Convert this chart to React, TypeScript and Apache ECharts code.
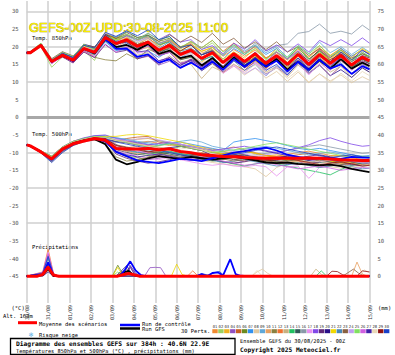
import React, { useEffect, useRef } from 'react';
import * as echarts from 'echarts';

const hours = [0, 4, 16, 28, 40, 52, 64, 76, 88, 100, 112, 124, 136, 148, 160, 172, 184, 196, 208, 220, 232, 244, 256, 268, 280, 292, 304, 316, 328, 340, 352, 364, 376, 384];
const dateLabels = ['30/08', '31/08', '01/09', '02/09', '03/09', '04/09', '05/09', '06/09', '07/09', '08/09', '09/09', '10/09', '11/09', '12/09', '13/09', '14/09', '15/09'];
const leftTicks = [-45, -40, -35, -30, -25, -20, -15, -10, -5, 0, 5, 10, 15, 20, 25, 30];
const rightTicks = [0, 5, 10, 15, 20, 25, 30, 35, 40, 45, 50, 55, 60, 65, 70, 75];
const gridLevels = [30, 20, 10, -10, -20, -30];
const zeroLevel = [0];

const pertColors = ['#f08a30', '#9ad060', '#f0b020', '#9050c0', '#c86020', '#6a8a20', '#3090f0', '#e0c8a0', '#60a8d8', '#e8a060', '#8a8040', '#f07030', '#c8b080', '#20c060', '#305858', '#8898a8', '#e890f0', '#8048e8', '#602878', '#281088', '#f0d800', '#4888b8', '#886040', '#c0a0f0', '#80e060', '#d060e0', '#4020a8', '#e8d8b8', '#901010', '#1840c8'];

const mean850 = [18.3, 18.3, 20.4, 15.8, 17.6, 16.2, 19.5, 18.4, 22.6, 20.9, 22.0, 20.1, 21.3, 19.0, 20.4, 17.8, 19.0, 16.7, 18.3, 15.5, 18.0, 15.8, 18.0, 15.3, 17.5, 15.0, 17.8, 15.0, 17.8, 15.3, 17.5, 14.8, 17.0, 16.0];
const control850 = [18.3, 18.3, 20.4, 15.8, 17.6, 16.0, 19.3, 18.3, 22.2, 19.4, 19.5, 17.1, 17.8, 15.5, 16.4, 14.0, 15.5, 13.7, 15.8, 13.5, 16.5, 14.3, 16.5, 14.3, 16.0, 13.0, 15.8, 13.5, 16.3, 13.8, 15.0, 12.3, 14.5, 13.6];
const gfs850 = [18.3, 18.3, 20.4, 15.8, 17.6, 16.0, 19.5, 18.1, 22.1, 19.9, 20.5, 19.1, 20.8, 18.0, 18.9, 16.8, 17.5, 14.7, 16.8, 14.0, 17.0, 14.3, 16.5, 14.3, 16.5, 13.5, 15.8, 13.5, 16.3, 13.8, 16.5, 13.8, 15.5, 14.5];
const perts850 = [
  [18.3, 18.5, 20.7, 15.6, 17.8, 16.5, 20.0, 19.2, 23.6, 22.4, 23.2, 21.9, 22.8, 21.0, 22.0, 20.0, 20.8, 18.7, 19.8, 17.3, 19.2, 17.3, 19.0, 16.7, 18.3, 16.2, 19.3, 17.0, 19.6, 17.5, 19.5, 17.3, 19.2, 18.0],
  [18.3, 18.1, 20.1, 14.2, 17.1, 15.9, 18.9, 16.1, 23.1, 21.7, 23.0, 20.6, 22.5, 20.0, 22.4, 19.3, 21.3, 19.2, 21.1, 17.7, 21.0, 17.8, 20.5, 16.8, 18.5, 15.5, 18.6, 15.2, 18.3, 14.8, 17.5, 14.3, 17.3, 16.0],
  [18.4, 18.6, 20.9, 16.0, 17.9, 16.2, 19.7, 18.9, 23.4, 21.4, 21.5, 19.1, 19.8, 17.8, 18.4, 16.3, 17.2, 15.7, 17.8, 15.7, 18.5, 16.8, 19.5, 16.5, 19.5, 16.5, 19.6, 17.0, 20.3, 17.5, 19.5, 16.3, 18.0, 16.8],
  [18.3, 18.2, 20.6, 16.1, 17.7, 16.4, 19.8, 18.4, 22.1, 19.4, 19.5, 16.6, 17.3, 14.8, 15.9, 14.0, 15.5, 13.7, 15.8, 13.5, 16.5, 14.0, 15.5, 12.3, 14.0, 12.0, 15.3, 13.0, 16.3, 14.8, 18.0, 15.8, 18.5, 17.0],
  [18.3, 18.4, 20.2, 15.5, 17.8, 16.6, 20.1, 19.4, 23.4, 22.1, 22.8, 20.6, 21.5, 18.7, 19.6, 16.6, 17.5, 14.7, 15.8, 12.7, 15.0, 13.3, 16.0, 13.8, 16.5, 13.5, 15.8, 12.5, 14.8, 11.8, 14.5, 12.3, 15.0, 13.8],
  [18.3, 18.3, 20.5, 16.2, 17.9, 16.8, 20.3, 19.6, 23.6, 22.3, 23.5, 22.1, 23.1, 21.5, 22.4, 20.0, 20.5, 17.7, 18.8, 15.5, 17.5, 14.8, 17.2, 14.8, 17.5, 15.5, 18.0, 14.7, 17.0, 14.1, 16.0, 13.8, 16.5, 15.2],
  [18.3, 18.5, 20.4, 15.4, 17.4, 15.7, 19.1, 17.6, 21.4, 18.9, 19.2, 17.1, 18.8, 17.0, 18.9, 16.8, 18.5, 16.7, 18.8, 16.5, 19.5, 17.8, 20.2, 17.8, 19.5, 16.5, 18.8, 15.5, 18.8, 16.8, 19.5, 17.3, 19.0, 17.8],
  [18.3, 18.2, 20.1, 15.8, 17.4, 16.3, 19.8, 18.9, 22.8, 20.7, 21.4, 19.1, 19.8, 17.8, 18.6, 15.6, 16.4, 13.7, 15.1, 12.5, 14.6, 12.0, 14.0, 11.1, 13.0, 10.2, 12.8, 9.8, 12.3, 10.3, 12.0, 9.8, 11.5, 10.5],
  [18.3, 18.6, 20.8, 16.4, 18.0, 17.0, 20.0, 18.6, 22.6, 21.5, 23.0, 21.6, 23.3, 20.8, 21.9, 18.8, 19.5, 17.7, 19.8, 17.5, 20.5, 18.8, 20.5, 18.3, 20.0, 17.0, 20.3, 18.0, 21.3, 18.3, 20.0, 17.8, 19.8, 18.5],
  [18.3, 18.1, 20.0, 15.3, 17.3, 15.6, 18.5, 17.6, 22.1, 19.9, 21.5, 20.1, 21.8, 20.0, 21.9, 19.6, 21.0, 18.2, 19.3, 16.0, 18.0, 15.3, 17.0, 13.8, 16.5, 14.5, 17.8, 15.5, 18.8, 16.8, 18.5, 15.3, 17.0, 16.2],
  [18.3, 18.4, 20.7, 15.7, 17.6, 16.0, 19.0, 17.0, 16.3, 16.0, 18.0, 16.5, 19.3, 18.0, 19.9, 17.8, 19.5, 17.7, 19.1, 16.0, 18.0, 15.3, 17.0, 14.8, 17.5, 15.5, 18.8, 16.5, 18.8, 15.8, 17.5, 14.3, 16.0, 15.2],
  [18.3, 18.3, 20.6, 15.9, 18.1, 16.5, 19.5, 18.8, 23.2, 21.2, 22.8, 20.6, 22.3, 20.5, 21.6, 19.6, 21.5, 19.7, 21.8, 18.7, 21.0, 18.3, 20.0, 16.8, 18.5, 15.5, 17.8, 14.5, 16.8, 14.5, 17.0, 14.8, 17.5, 16.3],
  [18.3, 18.0, 19.9, 15.5, 17.0, 15.8, 19.3, 18.4, 22.1, 19.4, 20.0, 17.6, 18.3, 15.5, 17.4, 15.3, 15.0, 11.0, 14.3, 12.8, 17.0, 14.3, 16.0, 12.8, 14.5, 11.5, 14.8, 12.5, 15.8, 12.8, 14.5, 11.3, 14.0, 12.8],
  [18.3, 18.5, 20.5, 16.1, 17.6, 16.0, 19.7, 19.0, 23.6, 22.7, 24.2, 22.6, 23.3, 20.5, 21.4, 18.3, 19.0, 16.2, 17.3, 14.0, 17.0, 15.3, 18.0, 15.8, 18.5, 16.5, 19.8, 16.5, 18.8, 15.8, 18.5, 16.3, 18.0, 17.2],
  [18.3, 18.3, 20.3, 16.0, 17.5, 16.3, 19.2, 17.9, 21.6, 20.4, 22.0, 20.6, 21.5, 18.5, 19.4, 16.3, 17.0, 14.2, 16.3, 14.0, 17.0, 15.3, 18.0, 15.8, 17.5, 14.5, 16.8, 13.5, 15.8, 13.8, 16.5, 14.3, 16.0, 15.2],
  [18.3, 18.4, 20.6, 15.8, 17.8, 16.6, 19.7, 18.4, 23.1, 21.9, 22.5, 21.1, 22.8, 21.0, 21.9, 18.8, 19.5, 17.7, 19.8, 17.5, 20.0, 18.3, 21.0, 18.8, 20.3, 20.8, 23.8, 24.3, 26.4, 23.8, 24.4, 23.6, 26.1, 24.7],
  [18.3, 18.2, 20.2, 15.3, 17.2, 15.4, 19.0, 18.1, 22.6, 20.1, 20.5, 18.1, 18.8, 16.0, 16.9, 14.8, 16.5, 14.7, 15.8, 12.5, 14.5, 12.8, 15.5, 13.3, 16.0, 13.0, 15.3, 12.0, 15.3, 13.3, 16.0, 13.8, 15.5, 14.8],
  [18.3, 18.4, 20.7, 16.3, 18.4, 16.7, 19.8, 18.4, 22.3, 21.4, 23.2, 22.1, 23.8, 22.0, 23.6, 21.3, 22.0, 19.2, 20.3, 18.0, 21.0, 19.3, 22.0, 18.8, 20.5, 18.5, 20.8, 18.5, 21.8, 20.3, 22.0, 20.3, 22.5, 21.0],
  [18.3, 18.3, 20.6, 15.6, 17.1, 15.4, 18.5, 16.9, 20.6, 18.4, 19.0, 16.6, 17.5, 15.0, 16.9, 14.8, 16.5, 14.7, 16.8, 14.5, 17.5, 15.8, 18.5, 15.3, 17.0, 14.0, 16.3, 14.0, 17.3, 15.3, 18.0, 15.8, 17.5, 16.8],
  [18.3, 18.5, 20.8, 16.1, 18.2, 17.1, 20.7, 19.9, 23.6, 21.4, 22.0, 19.6, 20.3, 17.5, 18.4, 15.3, 16.0, 13.2, 15.3, 13.0, 16.0, 14.3, 17.0, 14.8, 16.5, 13.5, 15.8, 12.5, 14.8, 11.8, 13.5, 11.3, 14.0, 12.8],
  [18.3, 18.1, 20.4, 16.0, 18.0, 16.4, 20.1, 19.4, 24.1, 21.9, 22.5, 20.1, 20.8, 19.0, 20.9, 18.8, 20.5, 18.7, 19.8, 16.5, 18.5, 15.8, 17.5, 14.3, 16.0, 14.0, 17.3, 15.0, 18.3, 16.3, 19.0, 16.8, 19.5, 18.2],
  [18.3, 18.4, 20.3, 15.8, 17.3, 16.2, 19.3, 17.8, 21.6, 19.4, 21.0, 19.6, 21.3, 19.5, 21.4, 18.3, 19.0, 16.2, 17.3, 14.0, 16.0, 13.3, 15.0, 11.8, 14.5, 12.5, 15.8, 13.5, 16.8, 13.8, 15.5, 12.3, 15.0, 13.8],
  [18.3, 18.5, 20.9, 16.6, 18.6, 17.4, 20.5, 19.9, 23.6, 22.4, 24.0, 22.6, 23.3, 21.5, 23.4, 21.3, 23.0, 21.2, 23.8, 20.7, 22.4, 19.6, 21.4, 19.2, 21.4, 18.5, 20.0, 17.5, 19.5, 17.0, 19.0, 16.8, 18.0, 17.3],
  [18.3, 18.3, 20.7, 15.9, 17.9, 16.2, 19.9, 19.2, 23.8, 22.9, 24.5, 21.6, 22.3, 19.5, 20.4, 17.3, 18.0, 15.2, 16.3, 13.0, 15.0, 12.3, 14.0, 11.8, 14.5, 12.5, 15.8, 12.5, 14.8, 11.8, 14.5, 12.3, 15.0, 13.7],
  [18.3, 18.6, 21.0, 16.3, 18.4, 17.2, 20.7, 19.2, 23.1, 21.9, 23.5, 22.1, 23.8, 22.0, 22.9, 19.8, 21.5, 19.7, 21.8, 18.5, 20.5, 17.8, 19.5, 16.3, 19.0, 17.0, 20.3, 18.0, 20.3, 17.3, 19.0, 15.8, 18.5, 17.2],
  [18.3, 18.2, 20.1, 15.2, 17.3, 15.7, 18.7, 17.2, 20.8, 18.4, 20.0, 18.6, 20.3, 17.5, 18.4, 15.3, 16.0, 14.2, 16.3, 14.0, 17.0, 15.3, 18.0, 15.8, 18.5, 16.5, 18.8, 15.5, 17.8, 14.8, 16.5, 13.3, 16.0, 14.8],
  [18.3, 18.4, 20.4, 15.5, 17.8, 16.1, 19.6, 18.8, 23.3, 20.9, 21.2, 18.5, 18.9, 16.0, 16.9, 14.6, 16.2, 14.3, 16.3, 14.0, 17.0, 15.3, 18.0, 14.8, 16.5, 13.5, 16.8, 14.5, 17.8, 15.8, 18.5, 16.3, 19.0, 17.8],
  [18.3, 18.3, 20.6, 16.2, 17.7, 16.5, 20.0, 18.7, 22.6, 21.2, 22.8, 21.3, 22.1, 19.4, 20.4, 17.4, 18.2, 15.5, 16.5, 13.3, 15.2, 12.6, 15.0, 12.5, 14.0, 11.0, 13.3, 10.0, 12.3, 9.8, 12.5, 10.3, 13.0, 11.8],
  [18.3, 18.1, 20.3, 15.8, 17.2, 16.0, 19.5, 18.6, 23.1, 20.9, 21.5, 19.1, 20.8, 19.0, 20.9, 18.8, 20.5, 17.7, 18.8, 15.5, 17.5, 14.8, 16.5, 14.3, 17.0, 15.0, 18.3, 16.0, 19.3, 16.3, 18.0, 14.8, 16.5, 15.7],
  [18.3, 18.4, 20.6, 16.1, 18.1, 16.9, 20.4, 19.6, 24.1, 22.9, 24.5, 23.1, 24.8, 22.0, 22.9, 19.8, 20.5, 17.7, 18.8, 15.5, 17.5, 14.8, 16.5, 13.3, 15.0, 12.0, 15.3, 13.0, 16.3, 14.3, 17.0, 14.8, 16.5, 15.7],
];

const mean500 = [-7.8, -8.1, -9.8, -11.8, -9.0, -7.5, -6.7, -6.0, -6.5, -8.8, -9.0, -9.0, -8.8, -9.2, -8.9, -9.7, -10.0, -10.6, -10.8, -11.1, -11.2, -11.4, -11.5, -11.6, -11.5, -11.6, -11.6, -11.5, -11.6, -11.8, -12.0, -12.1, -12.2, -12.2];
const control500 = [-7.8, -8.1, -9.8, -12.0, -9.2, -7.6, -6.6, -6.0, -6.8, -9.8, -11.0, -12.2, -12.6, -13.0, -12.4, -11.8, -12.0, -12.4, -11.6, -10.8, -10.0, -9.6, -9.0, -8.6, -9.4, -10.6, -11.2, -11.8, -11.4, -11.6, -11.8, -11.2, -11.4, -11.4];
const gfs500 = [-7.8, -8.1, -9.8, -11.8, -9.0, -7.4, -6.6, -6.2, -7.6, -12.0, -13.3, -12.6, -11.6, -11.0, -11.4, -11.8, -11.2, -11.6, -12.0, -11.6, -11.2, -11.6, -12.2, -12.8, -13.0, -12.8, -13.2, -13.4, -13.6, -13.4, -13.8, -14.6, -15.2, -15.5];
const perts500 = [
  [-7.8, -8.0, -9.6, -11.2, -8.6, -7.0, -6.2, -5.6, -5.8, -6.4, -6.8, -7.2, -6.8, -7.4, -8.0, -7.6, -8.4, -9.0, -9.5, -9.0, -8.4, -9.2, -10.0, -10.8, -11.0, -10.5, -10.0, -9.6, -10.2, -10.8, -11.0, -10.6, -11.2, -11.5],
  [-7.8, -8.2, -10.0, -12.4, -9.6, -7.8, -6.5, -5.8, -6.2, -9.5, -10.8, -11.5, -10.6, -9.8, -9.0, -8.4, -8.0, -8.8, -9.6, -10.2, -10.8, -11.6, -12.4, -12.0, -11.4, -12.0, -12.8, -13.6, -14.2, -13.8, -13.0, -12.6, -12.8, -13.2],
  [-7.8, -8.1, -9.7, -11.6, -8.8, -7.2, -6.8, -6.4, -7.0, -7.0, -6.6, -6.2, -6.0, -6.6, -7.2, -8.0, -8.6, -8.4, -9.0, -9.6, -10.2, -10.8, -11.2, -11.0, -10.6, -11.2, -11.8, -12.0, -11.6, -11.0, -10.8, -11.4, -12.0, -12.2],
  [-7.8, -8.0, -9.9, -12.0, -9.2, -7.6, -6.6, -5.9, -6.0, -7.6, -9.8, -11.4, -12.0, -11.6, -11.0, -10.4, -10.8, -11.4, -12.0, -12.6, -13.0, -12.4, -11.8, -12.2, -12.8, -13.4, -13.0, -12.4, -12.0, -12.6, -13.2, -13.6, -13.0, -12.8],
  [-7.8, -8.2, -9.6, -11.0, -8.4, -6.8, -6.0, -5.4, -5.6, -6.6, -6.0, -5.6, -5.4, -7.0, -7.6, -8.2, -8.8, -9.4, -10.0, -10.4, -10.0, -9.6, -10.2, -10.8, -11.4, -11.0, -10.6, -10.2, -10.8, -11.4, -12.0, -12.4, -12.0, -11.8],
  [-7.8, -8.1, -9.8, -12.2, -9.4, -7.4, -6.4, -5.8, -6.6, -9.8, -11.2, -12.0, -11.4, -10.6, -10.0, -10.6, -11.2, -11.8, -12.4, -12.0, -11.4, -10.8, -11.4, -12.0, -12.6, -12.2, -11.6, -11.2, -11.8, -12.4, -12.8, -12.4, -12.0, -12.3],
  [-7.8, -8.0, -9.5, -11.4, -8.8, -7.0, -6.0, -5.2, -5.2, -5.8, -6.4, -7.0, -7.6, -8.0, -7.4, -7.0, -7.6, -8.2, -8.8, -9.4, -7.0, -6.4, -6.0, -6.6, -7.2, -8.0, -8.8, -9.2, -8.8, -9.4, -10.0, -10.6, -11.0, -10.8],
  [-7.8, -8.1, -9.9, -12.0, -9.2, -7.6, -6.8, -6.2, -6.8, -9.0, -9.6, -10.2, -10.8, -11.2, -10.6, -11.0, -11.6, -12.2, -12.8, -13.2, -13.6, -14.0, -14.6, -16.8, -14.2, -13.0, -12.4, -12.8, -13.4, -14.0, -14.4, -14.0, -13.6, -13.8],
  [-7.8, -8.1, -9.7, -11.4, -8.6, -7.0, -6.2, -5.6, -5.6, -5.8, -6.2, -6.8, -7.2, -7.8, -7.4, -6.8, -6.4, -7.0, -8.2, -8.8, -9.4, -9.0, -8.6, -8.2, -8.8, -9.4, -10.0, -10.6, -10.2, -9.8, -10.4, -11.0, -11.4, -11.2],
  [-7.8, -8.2, -10.1, -12.6, -9.8, -8.0, -7.0, -6.4, -6.8, -8.4, -9.6, -10.4, -10.0, -9.6, -9.2, -9.8, -10.4, -11.0, -11.6, -11.2, -10.8, -11.4, -12.0, -12.6, -13.2, -12.8, -12.2, -11.8, -12.4, -13.0, -13.6, -13.2, -12.8, -13.0],
  [-7.8, -8.0, -9.6, -11.8, -9.0, -7.4, -6.6, -6.0, -7.4, -11.2, -12.4, -12.0, -11.2, -10.4, -9.8, -10.4, -11.0, -11.6, -11.0, -10.4, -10.0, -10.6, -11.2, -11.8, -12.4, -12.0, -11.4, -11.8, -12.4, -13.0, -12.6, -12.0, -12.4, -12.6],
  [-7.8, -8.1, -9.8, -11.6, -8.8, -7.2, -6.4, -5.8, -6.0, -6.8, -7.2, -7.6, -8.0, -8.6, -9.2, -9.8, -10.4, -10.0, -10.6, -11.2, -11.8, -12.4, -12.0, -11.6, -11.2, -11.8, -12.4, -13.0, -12.6, -12.2, -12.6, -13.0, -13.4, -13.2],
  [-7.8, -8.2, -9.9, -11.9, -9.1, -7.5, -6.7, -6.1, -6.3, -8.0, -8.6, -8.2, -7.8, -8.4, -9.0, -9.6, -10.2, -10.8, -11.4, -11.0, -10.6, -11.2, -11.8, -12.4, -12.8, -12.4, -12.0, -12.6, -13.2, -13.6, -13.2, -12.8, -13.2, -13.4],
  [-7.8, -8.0, -9.7, -11.7, -8.9, -7.3, -6.5, -5.9, -6.3, -8.6, -9.2, -9.8, -10.4, -10.0, -9.6, -10.2, -10.8, -11.4, -12.0, -12.6, -13.2, -13.8, -13.2, -12.6, -13.2, -13.8, -14.4, -15.0, -15.6, -16.3, -14.8, -13.6, -13.0, -12.8],
  [-7.8, -8.1, -9.8, -12.0, -9.2, -7.6, -6.8, -6.2, -6.6, -9.2, -10.0, -10.6, -10.2, -9.8, -10.4, -11.0, -10.6, -10.2, -10.8, -11.4, -12.0, -11.6, -11.2, -11.8, -12.4, -12.0, -11.6, -12.2, -12.8, -12.4, -12.0, -12.6, -13.2, -13.0],
  [-7.8, -8.0, -9.6, -11.4, -8.6, -7.0, -6.2, -5.6, -5.8, -6.6, -7.0, -7.4, -7.0, -6.6, -7.2, -7.8, -8.4, -8.8, -9.2, -9.8, -10.4, -11.0, -10.6, -10.2, -9.8, -9.4, -8.8, -8.2, -7.8, -8.4, -9.0, -9.6, -10.2, -10.0],
  [-7.8, -8.2, -10.0, -12.2, -9.4, -7.8, -7.0, -6.4, -6.8, -9.4, -10.2, -11.0, -11.6, -12.0, -11.4, -12.0, -12.6, -13.2, -13.6, -13.2, -13.8, -14.0, -13.6, -14.0, -16.6, -14.0, -13.8, -17.3, -14.2, -13.6, -13.0, -12.4, -12.8, -13.0],
  [-7.8, -8.0, -9.5, -11.0, -8.4, -6.8, -5.8, -5.2, -5.0, -6.0, -6.6, -7.2, -7.8, -7.4, -7.0, -7.6, -8.2, -8.8, -9.4, -9.0, -8.6, -8.2, -8.8, -9.4, -10.0, -9.4, -8.6, -7.8, -6.6, -5.8, -6.8, -7.6, -8.2, -8.0],
  [-7.8, -8.1, -9.9, -12.4, -9.6, -7.8, -6.8, -6.2, -6.6, -10.4, -11.6, -12.4, -13.0, -12.6, -12.0, -11.4, -10.8, -11.4, -12.0, -12.6, -13.0, -12.6, -12.0, -11.6, -12.2, -12.8, -13.4, -13.0, -12.6, -12.2, -12.8, -13.4, -13.8, -13.6],
  [-7.8, -8.0, -9.7, -11.6, -8.8, -7.2, -6.4, -5.8, -6.0, -6.8, -7.2, -7.8, -8.4, -9.0, -8.6, -8.2, -8.8, -9.4, -10.8, -11.4, -11.0, -10.6, -11.2, -11.8, -11.4, -11.0, -11.6, -12.2, -11.8, -11.4, -12.0, -12.6, -12.4, -12.5],
  [-7.8, -8.1, -9.6, -11.2, -8.6, -7.0, -6.2, -5.6, -5.4, -5.4, -5.0, -4.8, -5.2, -5.8, -6.4, -7.0, -7.8, -8.6, -9.8, -10.4, -10.0, -9.6, -10.2, -10.8, -11.4, -12.0, -11.6, -11.2, -11.8, -12.4, -13.0, -12.6, -12.2, -12.4],
  [-7.8, -8.2, -10.0, -12.4, -9.6, -7.8, -6.8, -6.0, -6.4, -8.8, -9.4, -10.0, -9.6, -9.2, -9.8, -10.4, -11.0, -11.6, -12.2, -12.8, -12.4, -12.0, -12.6, -13.2, -13.8, -13.4, -13.0, -13.6, -14.2, -13.8, -13.4, -14.0, -14.6, -14.4],
  [-7.8, -8.0, -9.6, -11.4, -8.6, -7.0, -6.2, -5.8, -6.2, -7.8, -8.4, -9.0, -9.6, -10.2, -10.8, -11.4, -11.0, -10.6, -11.2, -11.8, -12.4, -12.0, -11.6, -12.2, -12.8, -12.4, -12.0, -11.6, -12.2, -12.8, -13.4, -13.0, -12.6, -12.8],
  [-7.8, -8.1, -9.7, -11.8, -9.0, -7.4, -6.6, -6.0, -6.2, -6.2, -6.6, -6.2, -5.8, -6.4, -7.0, -7.6, -8.2, -8.8, -9.6, -9.2, -9.8, -10.4, -11.0, -10.6, -10.2, -10.8, -11.4, -12.0, -12.6, -12.2, -11.8, -12.4, -13.0, -12.8],
  [-7.8, -8.0, -9.5, -11.0, -8.4, -6.8, -6.0, -5.4, -5.6, -6.6, -7.2, -7.8, -8.4, -8.0, -7.6, -8.2, -8.8, -9.4, -10.0, -9.6, -9.2, -8.8, -8.2, -7.6, -7.2, -7.8, -8.4, -9.0, -9.6, -10.2, -10.8, -11.4, -11.0, -11.2],
  [-7.8, -8.2, -9.9, -12.0, -9.2, -7.6, -6.8, -6.2, -6.4, -8.4, -9.0, -9.6, -10.2, -10.8, -11.4, -12.0, -11.6, -11.2, -11.8, -12.4, -13.0, -13.6, -13.2, -12.8, -13.4, -14.0, -14.6, -14.2, -13.8, -14.4, -15.0, -14.6, -14.2, -14.4],
  [-7.8, -8.1, -9.8, -11.8, -9.0, -7.4, -6.6, -6.0, -6.6, -9.6, -10.6, -11.2, -10.8, -10.4, -11.0, -11.6, -12.2, -11.8, -11.4, -10.8, -10.2, -9.6, -9.0, -9.6, -10.2, -10.8, -11.4, -11.0, -10.6, -11.2, -11.8, -12.4, -12.0, -12.2],
  [-7.8, -8.0, -9.6, -11.4, -8.6, -7.0, -6.2, -5.6, -5.8, -6.6, -7.0, -7.6, -8.2, -8.8, -9.4, -9.0, -8.6, -9.2, -10.4, -11.0, -11.6, -11.2, -10.8, -11.4, -12.0, -12.6, -13.2, -12.8, -12.4, -13.0, -13.6, -14.2, -13.8, -13.6],
  [-7.8, -8.1, -9.8, -11.6, -8.8, -7.2, -6.4, -5.8, -6.0, -8.0, -8.6, -9.2, -9.8, -9.4, -9.0, -9.6, -10.2, -10.8, -11.4, -11.0, -10.6, -11.2, -11.8, -12.4, -12.0, -11.6, -12.2, -12.8, -13.4, -13.0, -12.6, -13.2, -13.8, -13.6],
  [-7.8, -8.2, -10.1, -12.8, -10.0, -8.0, -6.8, -6.0, -6.2, -7.0, -7.6, -8.2, -8.8, -9.4, -10.0, -10.6, -11.2, -11.8, -11.4, -11.0, -10.6, -10.0, -9.4, -8.8, -8.4, -9.0, -9.6, -10.2, -10.8, -11.4, -11.0, -10.6, -11.2, -11.4],
];

// Precipitation (mm), [hour, mm]
const precipMean = [[0, 0], [12, 0], [18, 0.5], [24, 2.6], [30, 0.3], [36, 0], [102, 0], [108, 0.4], [114, 0.8], [120, 0.4], [126, 0], [384, 0]];
const precipControl = [[0, 0], [18, 0.4], [24, 3.9], [30, 0.2], [36, 0], [104, 0], [110, 1.8], [116, 4.2], [122, 1.6], [128, 0.3], [134, 0], [190, 0], [196, 0.6], [202, 0], [208, 0.9], [214, 1.1], [220, 0.2], [228, 4.8], [234, 0.6], [240, 0], [384, 0]];
const precipGfs = [[0, 0], [18, 0.3], [24, 2.2], [30, 0], [102, 0], [108, 1.0], [114, 1.5], [120, 0.3], [126, 0], [384, 0]];
const precipPerts = [
  [[0, 0], [18, 0.5], [24, 3.8], [30, 0.3], [36, 0], [100, 0], [106, 1.2], [112, 0], [384, 0]],
  [[0, 0], [18, 0.8], [24, 5.5], [30, 0.5], [36, 0], [384, 0]],
  [[0, 0], [18, 0.4], [24, 4.2], [30, 0.2], [36, 0], [384, 0]],
  [[0, 0], [18, 0.2], [24, 2.5], [30, 0], [132, 0], [138, 2.4], [144, 2.5], [150, 2.4], [156, 0], [384, 0]],
  [[0, 0], [18, 1.0], [24, 6.2], [30, 0.6], [36, 0], [384, 0]],
  [[0, 0], [18, 0.3], [24, 3.0], [30, 0], [96, 0], [102, 3.1], [108, 0.5], [114, 0], [384, 0]],
  [[0, 0], [18, 0.6], [24, 4.8], [30, 0.4], [36, 0], [384, 0]],
  [[0, 0], [18, 0.1], [24, 2.0], [30, 0], [252, 0], [258, 1.2], [264, 2.0], [270, 0.8], [276, 0], [384, 0]],
  [[0, 0], [18, 0.7], [24, 5.0], [30, 0.3], [36, 0], [384, 0]],
  [[0, 0], [18, 0], [24, 1.5], [30, 0], [364, 0], [370, 4.0], [376, 0.6], [382, 0], [384, 0]],
  [[0, 0], [18, 0.4], [24, 3.4], [30, 0.2], [36, 0], [106, 0], [112, 2.2], [118, 0.6], [124, 0], [384, 0]],
  [[0, 0], [18, 1.2], [24, 7.6], [30, 0.8], [36, 0], [180, 0], [186, 1.5], [192, 0], [384, 0]],
  [[0, 0], [18, 0.2], [24, 2.8], [30, 0], [318, 0], [324, 2.0], [330, 0.5], [336, 0], [384, 0]],
  [[0, 0], [18, 0.6], [24, 4.5], [30, 0.3], [36, 0], [324, 0], [330, 1.5], [336, 0], [384, 0]],
  [[0, 0], [18, 0.5], [24, 3.6], [30, 0.2], [36, 0], [384, 0]],
  [[0, 0], [18, 0.2], [24, 2.2], [30, 0], [384, 0]],
  [[0, 0], [18, 1.1], [24, 6.8], [30, 0.7], [36, 0], [120, 0], [126, 0.8], [132, 0], [384, 0]],
  [[0, 0], [18, 0.9], [24, 5.8], [30, 0.5], [36, 0], [108, 0], [114, 3.6], [120, 1.0], [126, 0], [384, 0]],
  [[0, 0], [18, 0.1], [24, 1.8], [30, 0], [110, 0], [116, 2.5], [122, 0], [384, 0]],
  [[0, 0], [18, 0.5], [24, 4.0], [30, 0.2], [36, 0], [100, 0], [106, 1.5], [112, 3.0], [118, 0.5], [124, 0], [384, 0]],
  [[0, 0], [18, 0.3], [24, 3.2], [30, 0], [96, 0], [102, 2.5], [108, 0], [162, 0], [168, 3.4], [174, 0.5], [180, 0], [384, 0]],
  [[0, 0], [18, 0.8], [24, 5.2], [30, 0.4], [36, 0], [384, 0]],
  [[0, 0], [18, 0.2], [24, 2.6], [30, 0], [354, 0], [360, 1.0], [366, 2.0], [372, 0.8], [378, 0], [384, 0]],
  [[0, 0], [18, 0.6], [24, 4.4], [30, 0.3], [36, 0], [234, 0], [240, 0.5], [246, 0], [384, 0]],
  [[0, 0], [18, 0.3], [24, 3.0], [30, 0], [96, 0], [102, 1.2], [108, 0], [384, 0]],
  [[0, 0], [18, 1.0], [24, 6.4], [30, 0.6], [36, 0], [384, 0]],
  [[0, 0], [18, 0], [24, 1.2], [30, 0], [110, 0], [116, 3.0], [122, 0.8], [128, 0], [384, 0]],
  [[0, 0], [18, 0.1], [24, 2.4], [30, 0], [252, 0], [258, 1.6], [264, 0], [372, 0], [378, 1.8], [384, 1.0]],
  [[0, 0], [18, 0.4], [24, 3.5], [30, 0.2], [36, 0], [336, 0], [342, 1.4], [348, 1.3], [354, 0.4], [360, 0], [370, 0], [376, 1.5], [384, 1.2]],
  [[0, 0], [18, 0.9], [24, 5.6], [30, 0.4], [36, 0], [190, 0], [196, 0.7], [204, 0.3], [210, 1.0], [216, 1.3], [222, 0], [384, 0]],
];

const MONO = 'DejaVu Sans Mono';

function pairs(arr: number[]) {
  return arr.slice(0, hours.length).map((v, i) => [hours[i], v]);
}

function lineSeries(data: any[], color: string, width: number, yAxisIndex = 0, z = 2): any {
  return {
    type: 'line',
    data,
    yAxisIndex,
    showSymbol: false,
    symbol: 'none',
    silent: true,
    z,
    lineStyle: { color, width },
  };
}

function txt(x: number, y: number, text: string, size: number, extra: any = {}): any {
  return {
    type: 'text',
    x,
    y,
    silent: true,
    style: {
      text,
      fill: '#000',
      fontSize: size,
      fontFamily: MONO,
      verticalAlign: 'middle',
      ...extra,
    },
  };
}

function buildOption(): any {
  const series: any[] = [];
  // gridlines
  series.push({
    type: 'line',
    data: [],
    silent: true,
    markLine: {
      silent: true,
      symbol: 'none',
      z: 1,
      label: { show: false },
      lineStyle: { color: '#cfcfcf', width: 1.5, type: 'solid' },
      data: gridLevels.map((v) => ({ yAxis: v })),
    },
  });
  series.push({
    type: 'line',
    data: [],
    silent: true,
    markLine: {
      silent: true,
      symbol: 'none',
      z: 1,
      label: { show: false },
      lineStyle: { color: '#a8a8a8', width: 3, type: 'solid' },
      data: zeroLevel.map((v) => ({ yAxis: v })),
    },
  });

  perts850.forEach((arr, i) => series.push(lineSeries(pairs(arr), pertColors[i], 0.8)));
  perts500.forEach((arr, i) => series.push(lineSeries(pairs(arr), pertColors[i], 0.8)));
  precipPerts.forEach((arr, i) => series.push(lineSeries(arr, pertColors[i], 0.8, 1)));

  series.push(lineSeries(pairs(gfs850), '#000000', 1.8, 0, 3));
  series.push(lineSeries(pairs(gfs500), '#000000', 1.8, 0, 3));
  series.push(lineSeries(precipGfs, '#000000', 1.8, 1, 3));
  series.push(lineSeries(pairs(control850), '#0000ff', 1.8, 0, 3));
  series.push(lineSeries(pairs(control500), '#0000ff', 1.8, 0, 3));
  series.push(lineSeries(precipControl, '#0000ff', 1.8, 1, 3));
  series.push(lineSeries(pairs(mean850), '#ff0000', 3, 0, 4));
  series.push(lineSeries(pairs(mean500), '#ff0000', 3, 0, 4));
  series.push(lineSeries(precipMean, '#ff0000', 3, 1, 4));

  const labelStyle = { fontFamily: MONO, fontSize: 5.6, color: '#555' };

  const graphics: any[] = [
    txt(29, 27, 'GEFS-00Z-UPD:30-08-2025 11:00', 13, {
      fontFamily: 'Liberation Sans',
      fill: '#f8ec00',
      stroke: '#a89a00',
      lineWidth: 0.7,
    }),
    txt(32, 37.5, 'Temp. 850hPa', 5.5),
    txt(32, 134, 'Temp. 500hPa', 5.5),
    txt(32, 246.5, 'Précipitations', 5.5),
    txt(11.5, 307.5, '(°C)', 5.5),
    txt(3, 315.5, 'Alt. 163m', 5.5),
    txt(378, 307.5, '(mm)', 5.5),
    { type: 'line', silent: true, shape: { x1: 18, y1: 322.7, x2: 37, y2: 322.7 }, style: { stroke: '#ff0000', lineWidth: 3 } },
    txt(39, 323.5, 'Moyenne des scénarios', 5.4),
    { type: 'line', silent: true, shape: { x1: 120, y1: 325, x2: 140, y2: 325 }, style: { stroke: '#0000ff', lineWidth: 2.5 } },
    txt(142, 323.8, 'Run de contrôle', 5.4),
    { type: 'line', silent: true, shape: { x1: 120, y1: 328.5, x2: 140, y2: 328.5 }, style: { stroke: '#000000', lineWidth: 2.5 } },
    txt(142, 329.3, 'Run GFS', 5.4),
    txt(31, 334.5, '❄', 6.5, { fill: '#6ab4e8', align: 'center', fontFamily: 'DejaVu Sans' }),
    txt(39, 334.8, 'Risque neige', 5.4),
    txt(181, 330.5, '30 Perts.', 5.4),
    { type: 'rect', silent: true, shape: { x: 10.5, y: 338.5, width: 224.5, height: 16 }, style: { fill: '#fff', stroke: '#000', lineWidth: 1.3 } },
    txt(16, 343.2, 'Diagramme des ensembles GEFS sur 384h : 40.6N 22.9E', 6.3, { fontWeight: 'bold' }),
    txt(16, 350.8, 'Températures 850hPa et 500hPa (°C) , précipitations (mm)', 5.3),
    txt(240, 340.8, 'Ensemble GEFS du 30/08/2025 - 00Z', 5.3),
    txt(240, 349.8, 'Copyright 2025 Meteociel.fr', 6.2, { fontWeight: 'bold' }),
  ];
  pertColors.forEach((c, i) => {
    const cx = 215 + i * 5.92;
    graphics.push(txt(cx, 326.3, String(i + 1).padStart(2, '0'), 3.9, { align: 'center', fill: '#333' }));
    graphics.push({ type: 'rect', silent: true, shape: { x: cx - 2.7, y: 329.2, width: 5.4, height: 4 }, style: { fill: c } });
  });

  const leftMin = -52.6;
  const leftMax = 32.95;

  return {
    animation: false,
    backgroundColor: '#ffffff',
    grid: { left: 26.7, right: 25.5, top: 1, bottom: 52, containLabel: false, outerBoundsMode: 'none' },
    xAxis: {
      type: 'value',
      min: 0,
      max: 384,
      interval: 24,
      axisLine: { show: false },
      axisTick: { show: false },
      splitLine: { show: true, lineStyle: { color: '#cfcfcf', width: 1.5 } },
      axisLabel: {
        rotate: 90,
        margin: 2,
        fontFamily: MONO,
        fontSize: 5,
        color: '#333',
        formatter: (v: number) => dateLabels[Math.round(v / 24)] ?? '',
      },
    },
    yAxis: [
      {
        type: 'value',
        position: 'left',
        min: leftMin,
        max: leftMax,
        minInterval: 5,
        maxInterval: 5,
        splitNumber: 17,
        axisLine: { show: false },
        axisTick: { show: false },
        splitLine: { show: false },
        axisLabel: {
          ...labelStyle,
          margin: 8,
          showMinLabel: true,
          showMaxLabel: true,
          formatter: (v: number) => (leftTicks.includes(v) ? String(v) : ''),
        },
      },
      {
        type: 'value',
        position: 'right',
        min: leftMin + 45,
        max: leftMax + 45,
        minInterval: 5,
        maxInterval: 5,
        splitNumber: 17,
        axisLine: { show: false },
        axisTick: { show: false },
        splitLine: { show: false },
        axisLabel: {
          ...labelStyle,
          margin: 8,
          formatter: (v: number) => (rightTicks.includes(v) ? String(v) : ''),
        },
      },
    ],
    series,
    graphic: { elements: graphics },
  };
}

export default function App() {
  const ref = useRef<HTMLDivElement>(null);
  useEffect(() => {
    if (!ref.current) return;
    const chart = echarts.init(ref.current, null, { renderer: 'svg' });
    chart.setOption(buildOption());
    return () => chart.dispose();
  }, []);
  return <div ref={ref} style={{ position: 'absolute', left: 0, top: 0, width: 395, height: 355, background: '#fff' }} />;
}
